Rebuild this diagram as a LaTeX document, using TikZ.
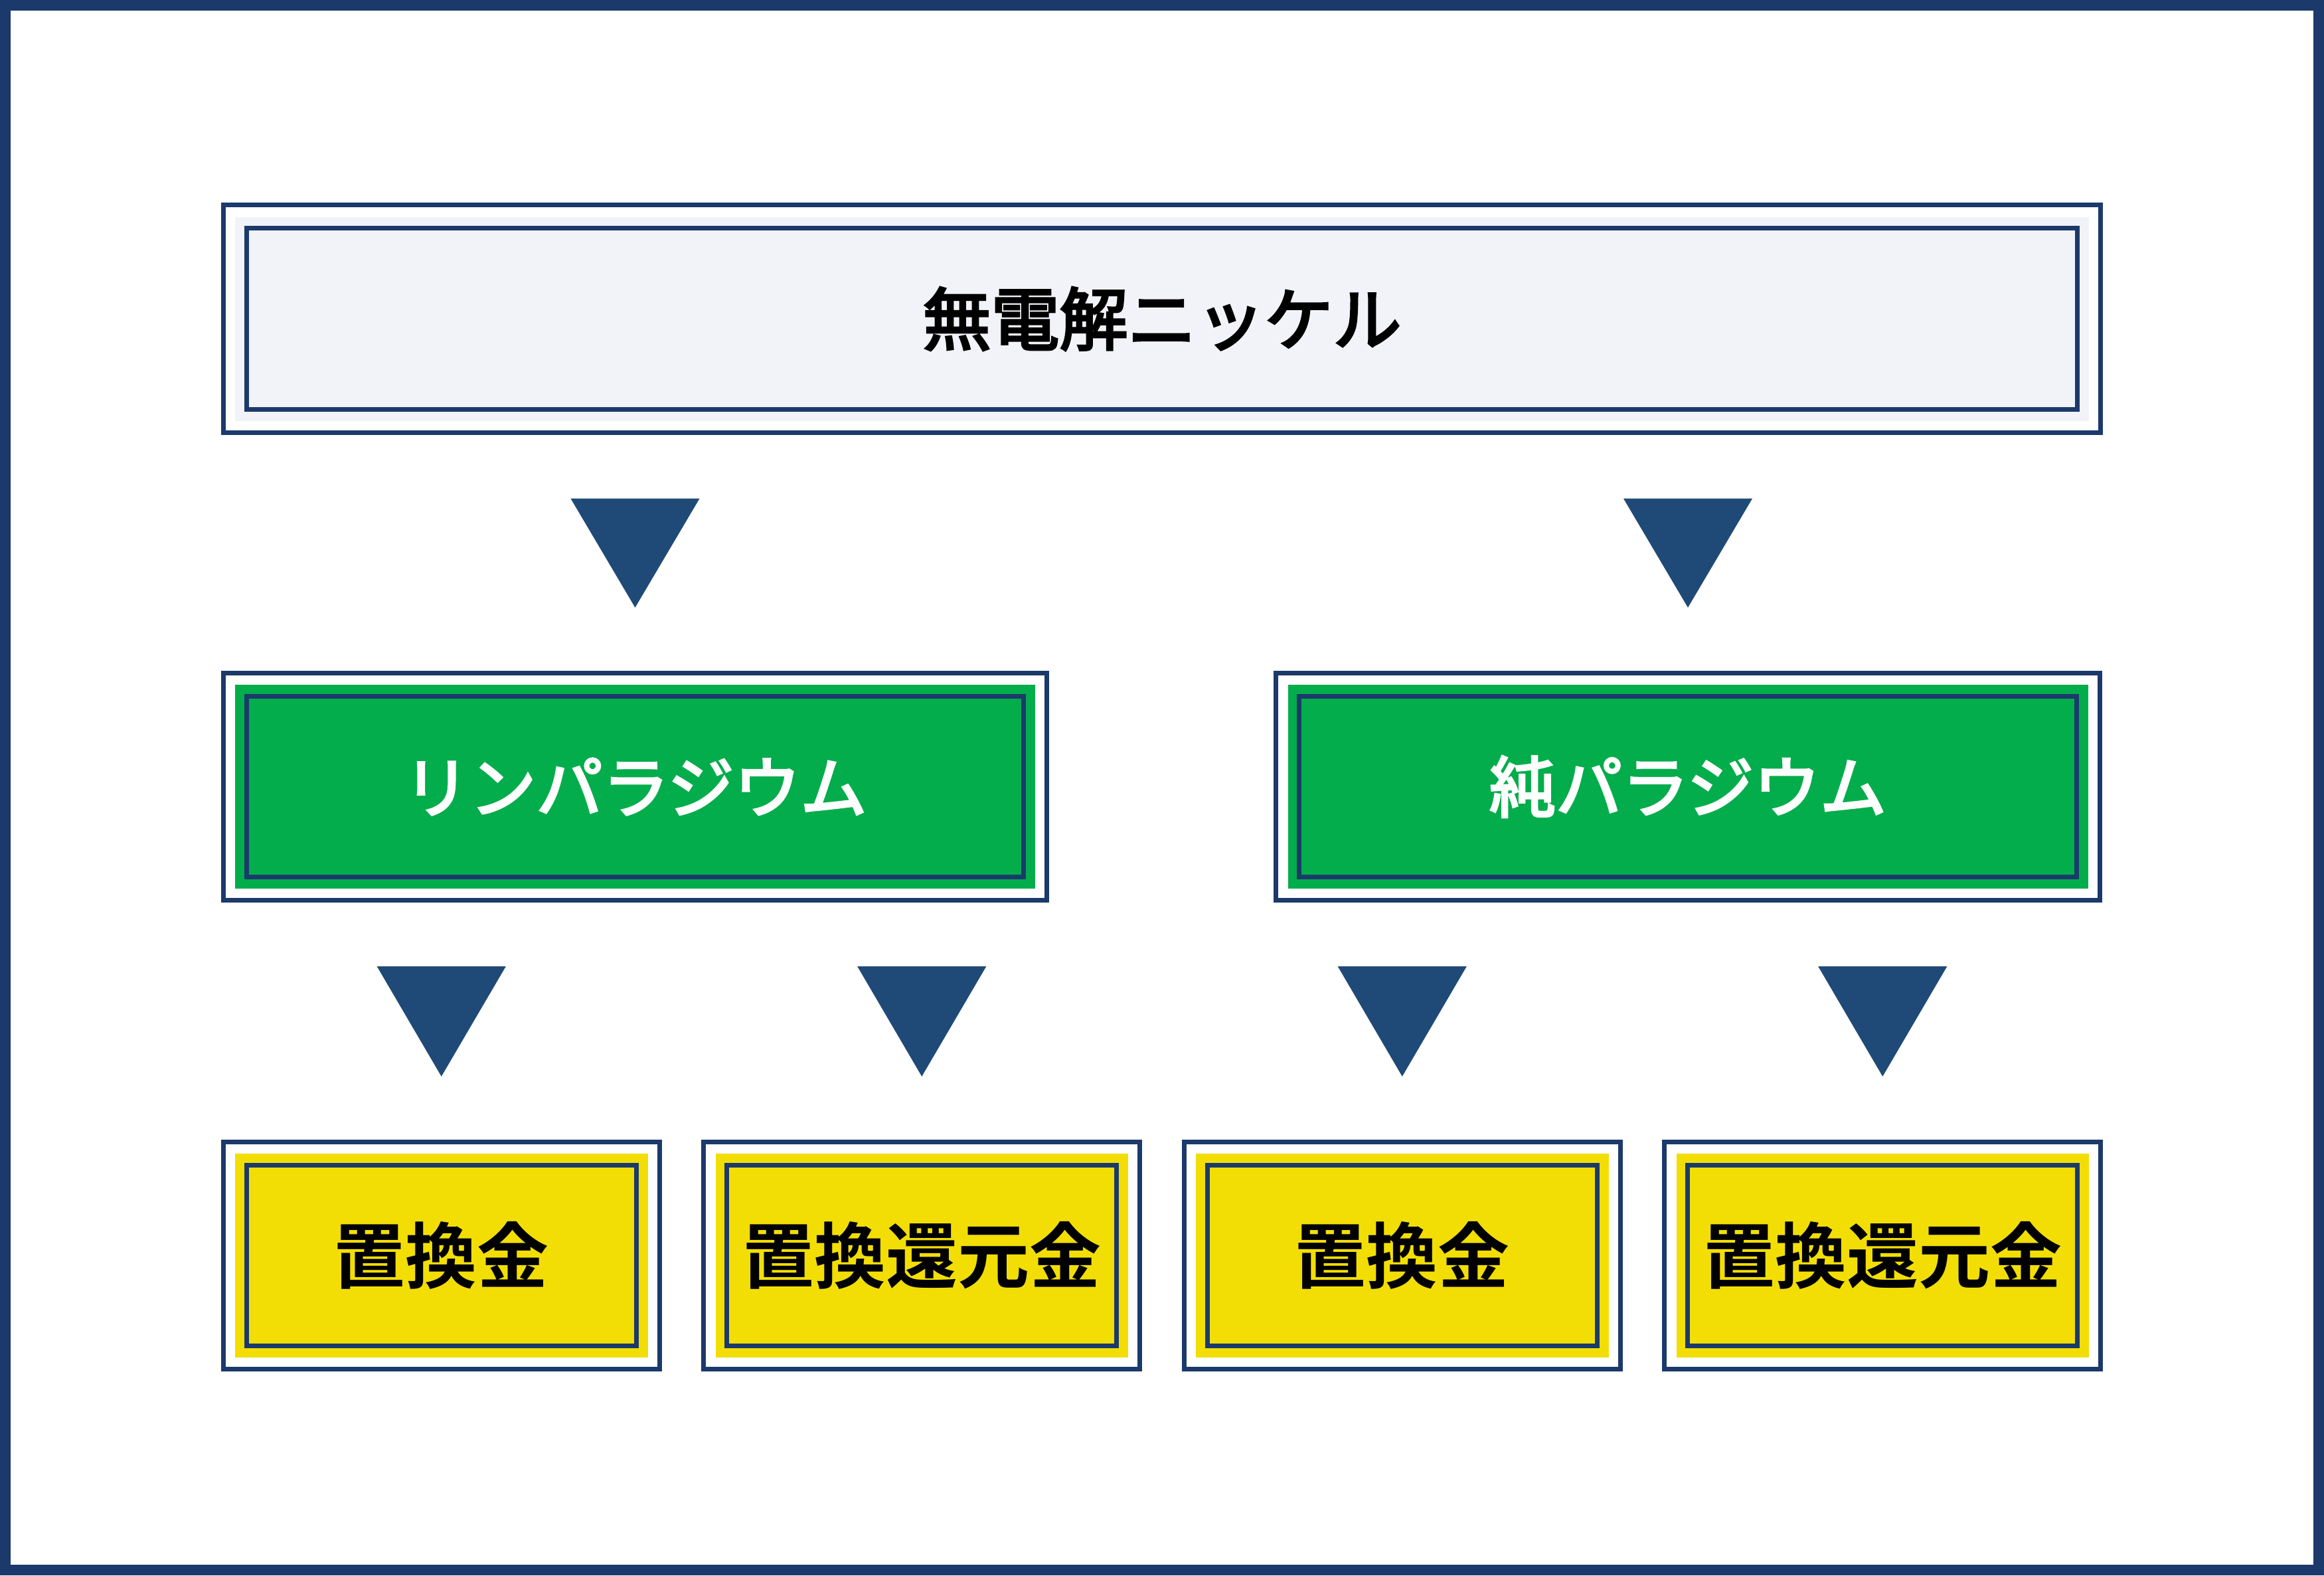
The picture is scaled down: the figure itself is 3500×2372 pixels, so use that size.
\documentclass[tikz,border=0pt]{standalone}
\usepackage{fontspec}
\newfontfamily\jp[FakeBold=3.5,UprightFont={* Bold}]{Noto Sans CJK JP}
\newfontfamily\jpr[UprightFeatures={FakeBold=3.5}]{Noto Sans CJK JP}
\newfontfamily\jpb[UprightFont={* Bold}]{Noto Sans CJK JP}
\usetikzlibrary{calc}
\definecolor{frame}{HTML}{1B3A6B}
\definecolor{tricol}{HTML}{1F4A77}
\definecolor{topfill}{HTML}{F2F3F8}
\definecolor{grn}{HTML}{03AD4B}
\definecolor{ylw}{HTML}{F2DE05}
\tikzset{
  boxbase/.style={rectangle, inner sep=0pt, minimum height=307pt},
  topbox/.style={boxbase, fill=topfill, minimum width=2792pt, font=\jpr\fontsize{103pt}{110pt}\selectfont, text=black},
  greenbox/.style={boxbase, fill=grn, minimum width=1205pt, font=\jpr\fontsize{100pt}{110pt}\selectfont, text=white},
  yellowbox/.style={boxbase, fill=ylw, minimum width=621.5pt, font=\jpb\fontsize{108pt}{115pt}\selectfont, text=black},
  borderline/.style={draw=frame, line width=7pt},
}
\newcommand\boxframes[1]{%
  \draw[borderline] ([shift={(-17.5pt,17.5pt)}]#1.north west) rectangle ([shift={(17.5pt,-17.5pt)}]#1.south east);
  \draw[borderline] ([shift={(17.5pt,-17.5pt)}]#1.north west) rectangle ([shift={(-17.5pt,17.5pt)}]#1.south east);}
\newcommand\arrowtri[2]{\fill[tricol] ($(#1.south -| #2.north)+(-97,117)$) -- ($(#1.south -| #2.north)+(97,117)$) -- ($(#2.north)+(0,-116)$) -- cycle;}
\begin{document}
\begin{tikzpicture}[x=1pt,y=-1pt]
\useasboundingbox (0,0) rectangle (3500,2372);
\draw[frame, line width=16pt] (8,8) rectangle (3492,2364);
\node[topbox] (top) at (1750,480) {無電解ニッケル};
\node[greenbox] (g1) at (956.5,1184.5) {リンパラジウム};
\node[greenbox] (g2) at (2542,1184.5) {純パラジウム};
\node[yellowbox] (y1) at (664.75,1890.5) {置換金};
\node[yellowbox] (y2) at (1388.25,1890.5) {置換還元金};
\node[yellowbox] (y3) at (2111.75,1890.5) {置換金};
\node[yellowbox] (y4) at (2835.25,1890.5) {置換還元金};
\foreach \n in {top,g1,g2,y1,y2,y3,y4} {\boxframes{\n}}
\arrowtri{top}{g1}
\arrowtri{top}{g2}
\arrowtri{g1}{y1}
\arrowtri{g1}{y2}
\arrowtri{g2}{y3}
\arrowtri{g2}{y4}
\end{tikzpicture}
\end{document}
